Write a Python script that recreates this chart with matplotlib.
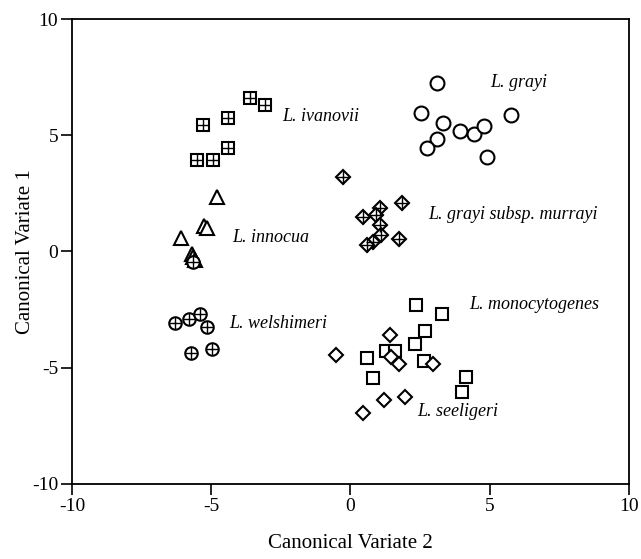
import numpy as np
import matplotlib
matplotlib.use("Agg")
import matplotlib.pyplot as plt

plt.rcParams['font.family'] = ['Liberation Serif', 'DejaVu Serif']
plt.rcParams['axes.unicode_minus'] = False

# canonical variate 2 (x), canonical variate 1 (y) for each species
ivanovii_x = [-3.6, -3.07, -4.4, -5.3, -4.4, -5.5, -4.94]
ivanovii_y = [6.6, 6.3, 5.74, 5.44, 4.45, 3.94, 3.94]

innocua_x = [-4.8, -5.25, -5.15, -6.1, -5.7, -5.65, -5.6]
innocua_y = [2.35, 1.1, 1.0, 0.6, -0.1, -0.25, -0.35]

grayi_x = [3.1, 2.53, 3.32, 3.93, 4.43, 4.79, 5.76, 3.1, 2.75, 4.9]
grayi_y = [7.25, 5.95, 5.52, 5.18, 5.05, 5.4, 5.87, 4.84, 4.45, 4.07]

murrayi_x = [-0.27, 1.84, 1.06, 0.45, 0.92, 1.06, 1.09, 1.74, 0.81, 0.59]
murrayi_y = [3.2, 2.08, 1.87, 1.48, 1.57, 1.14, 0.71, 0.54, 0.41, 0.28]

welshimeri_x = [-6.3, -5.8, -5.4, -5.15, -5.73, -4.97, -5.65]
welshimeri_y = [-3.07, -2.9, -2.7, -3.25, -4.36, -4.19, -0.45]

mono_x = [2.35, 3.29, 2.67, 2.31, 1.27, 1.6, 0.59, 2.64, 0.81, 4.15, 4.0]
mono_y = [-2.3, -2.69, -3.43, -3.98, -4.27, -4.27, -4.58, -4.7, -5.44, -5.4, -6.05]

seeligeri_x = [-0.52, 1.42, 1.45, 1.74, 2.96, 1.2, 1.96, 0.45]
seeligeri_y = [-4.45, -3.6, -4.55, -4.85, -4.85, -6.4, -6.27, -6.95]

# label text and position
labels = ["L. ivanovii", "L. innocua", "L. grayi", "L. grayi subsp. murrayi",
          "L. welshimeri", "L. monocytogenes", "L. seeligeri"]
label_x = [-2.45, -4.25, 5.0, 2.78, -4.36, 4.25, 2.4]
label_y = [5.8, 0.62, 7.25, 1.57, -3.08, -2.3, -6.9]

fig = plt.figure(figsize=(6.41, 5.59), dpi=100)
ax = fig.add_axes([0.1123, 0.1342, 0.8690, 0.8318])

def pts(x, y, marker, ms, cross=False, cross_ms=None):
  ax.plot(x, y, linestyle='none', marker=marker, ms=ms, mfc='white',
          mec='black', mew=1.5, zorder=3)
  if cross:
    ax.plot(x, y, linestyle='none', marker='+', ms=cross_ms, mec='black',
            mew=1.0, zorder=4)

pts(ivanovii_x, ivanovii_y, 's', 9, True, 9)
pts(innocua_x, innocua_y, '^', 10)
pts(grayi_x, grayi_y, 'o', 10)
pts(murrayi_x, murrayi_y, 'D', 7.5, True, 10)
pts(welshimeri_x, welshimeri_y, 'o', 9, True, 9)
pts(mono_x, mono_y, 's', 8)
pts(seeligeri_x, seeligeri_y, 'D', 7.5)

for t, x, y in zip(labels, label_x, label_y):
  ax.text(x, y, t, fontsize=13, style='italic', ha='left', va='center')

ax.set_xlim(-10, 10)
ax.set_ylim(-10, 10)
ax.set_xticks([-10, -5, 0, 5, 10])
ax.set_yticks([-10, -5, 0, 5, 10])
ax.tick_params(direction='out', length=8, width=1.2, labelsize=14, pad=2)
for s in ax.spines.values():
  s.set_linewidth(1.3)
ax.set_xlabel('Canonical Variate 2', fontsize=15)
ax.set_ylabel('Canonical Variate 1', fontsize=15)
ax.xaxis.set_label_coords(0.5, -0.108)
ax.yaxis.set_label_coords(-0.066, 0.5)

fig.savefig('out.png', dpi=100)
